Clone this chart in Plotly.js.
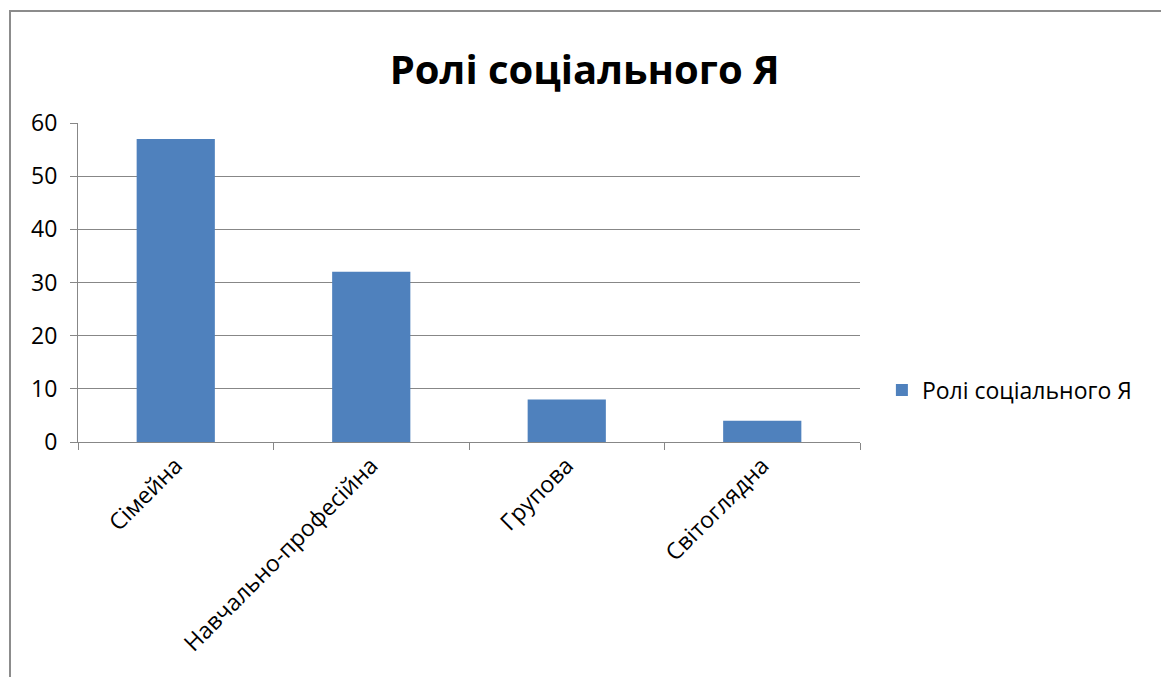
<!DOCTYPE html>
<html>
<head>
<meta charset="utf-8">
<script src="https://cdn.plot.ly/plotly-3.0.1.min.js"></script>
<style>
html,body{margin:0;padding:0;background:#fff;overflow:hidden;}
#chart{width:1161px;height:677px;}
#frame{position:absolute;left:9px;top:10px;width:1200px;height:700px;border-left:2px solid #8c8c8c;border-top:2px solid #8c8c8c;pointer-events:none;}
</style>
</head>
<body>
<div id="chart"></div>
<div id="frame"></div>
<script>
const categories = ["Сімейна", "Навчально-професійна", "Групова", "Світоглядна"];
const values = [57, 32, 8, 4];
const seriesName = "Ролі соціального Я";
const chartTitle = "Ролі соціального Я";
const yTicks = [0, 10, 20, 30, 40, 50, 60];

const FONT = "Open Sans, sans-serif";
const trace = {
  type: "bar",
  x: categories,
  y: values,
  name: seriesName,
  marker: {color: "#4F81BD"},
  showlegend: true
};
const layout = {
  width: 1161, height: 677,
  margin: {l: 78, r: 301, t: 123, b: 235},
  paper_bgcolor: "#fff", plot_bgcolor: "#fff",
  title: {text: "<b>" + chartTitle + "</b>", x: 0.648, xanchor: "center", y: 0.897, yanchor: "middle",
          xref: "paper", font: {family: FONT, size: 40, color: "#000"}},
  bargap: 0.6,
  font: {family: FONT, color: "#000"},
  xaxis: {
    type: "category", tickangle: -45, tickson: "boundaries",
    ticks: "outside", ticklen: 7, tickcolor: "#878787", tickwidth: 1,
    showline: true, linecolor: "#878787", linewidth: 1,
    showgrid: false, tickfont: {family: FONT, size: 23, color: "#000"},
    fixedrange: true
  },
  yaxis: {
    range: [0, 60], tickvals: yTicks, ticktext: yTicks.map(String),
    ticks: "outside", ticklen: 7, tickcolor: "#878787", ticklabelstandoff: 8,
    showline: true, linecolor: "#878787", linewidth: 1,
    showgrid: true, gridcolor: "#878787", gridwidth: 1,
    zeroline: false, tickfont: {family: FONT, size: 23, color: "#000"},
    fixedrange: true
  },
  showlegend: true,
  legend: {x: 1.028, xanchor: "left", y: 0.163, yanchor: "middle",
           font: {family: FONT, size: 23, color: "#000"}, itemwidth: 30, bgcolor: "rgba(0,0,0,0)"}
};
Plotly.newPlot("chart", [trace], layout, {displayModeBar: false, staticPlot: true});
</script>
</body>
</html>
